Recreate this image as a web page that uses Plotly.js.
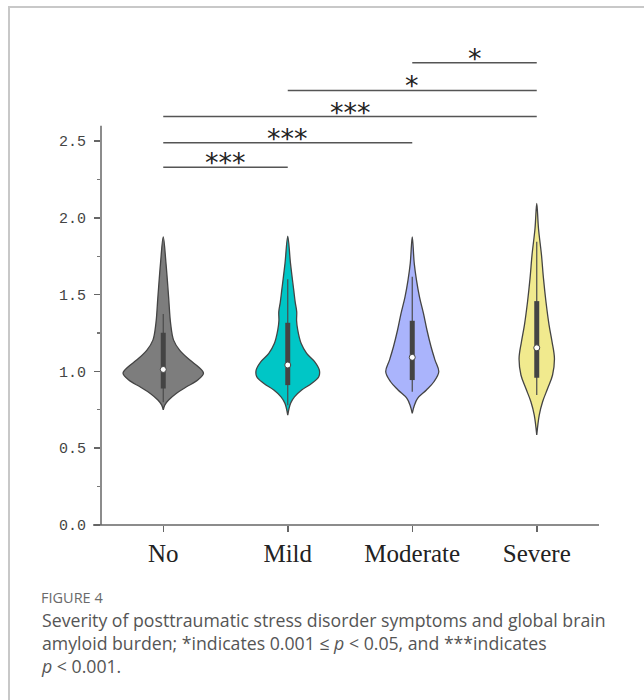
<!DOCTYPE html>
<html>
<head>
<meta charset="utf-8">
<script src="https://cdn.plot.ly/plotly-3.0.1.min.js"></script>
<style>
  html, body { margin: 0; padding: 0; background: #fff; }
  #frame { position: absolute; left: 8px; top: 6px; width: 640px; height: 700px;
           border-left: 2px solid #c8c8c8; border-top: 2px solid #c8c8c8; }
  #chart { position: absolute; left: 0; top: 0; width: 644px; height: 700px; }
</style>
</head>
<body>
<div id="frame"></div>
<div id="chart"></div>
<script>
// ---------------- data ----------------
const categories = ['No', 'Mild', 'Moderate', 'Severe'];

// violin outlines: y levels and half widths (in category units)
const noLevels = [1.877, 1.704, 1.486, 1.313, 1.204, 1.139, 1.074, 1.031, 0.988, 0.944, 0.900, 0.857, 0.814, 0.781, 0.749];
const noHalfWidth = [0, 0.022, 0.043, 0.059, 0.083, 0.131, 0.214, 0.281, 0.323, 0.277, 0.187, 0.104, 0.043, 0.012, 0];

const mildLevels = [1.881, 1.704, 1.530, 1.450, 1.389, 1.330, 1.270, 1.183, 1.118, 1.063, 1.009, 0.966, 0.922, 0.879, 0.835, 0.792, 0.716];
const mildHalfWidth = [0, 0.022, 0.048, 0.060, 0.072, 0.071, 0.080, 0.107, 0.152, 0.217, 0.254, 0.249, 0.191, 0.112, 0.054, 0.022, 0];

const moderateLevels = [1.877, 1.704, 1.595, 1.486, 1.378, 1.270, 1.161, 1.074, 0.998, 0.933, 0.879, 0.825, 0.781, 0.727];
const moderateHalfWidth = [0, 0.016, 0.034, 0.058, 0.090, 0.118, 0.151, 0.183, 0.213, 0.174, 0.114, 0.043, 0.018, 0];

const severeLevels = [2.094, 1.931, 1.758, 1.606, 1.454, 1.302, 1.193, 1.085, 0.977, 0.890, 0.803, 0.716, 0.586];
const severeHalfWidth = [0, 0.014, 0.038, 0.054, 0.074, 0.099, 0.123, 0.142, 0.127, 0.088, 0.047, 0.020, 0];

// box summary statistics
const lowerFence = [0.80, 0.78, 0.868, 0.846];
const q1 = [0.889, 0.911, 0.944, 0.959];
const medians = [1.013, 1.042, 1.092, 1.154];
const q3 = [1.252, 1.317, 1.330, 1.458];
const upperFence = [1.374, 1.60, 1.617, 1.845];

// significance brackets
const sigFrom = [0, 0, 0, 1, 2];
const sigTo = [1, 2, 3, 3, 3];
const sigHeight = [2.33, 2.49, 2.66, 2.83, 3.01];
const sigLabel = ['***', '***', '***', '*', '*'];

// y ticks
const yTickVals = [0, 0.5, 1.0, 1.5, 2.0, 2.5];
const yMinorVals = [0.25, 0.75, 1.25, 1.75, 2.25];
const yAxisTop = 2.6;

// ---------------- styles ----------------
const fillColors = ['#7d7d7d', '#00c6c6', '#aab4fc', '#f1ea8e'];
const outlineColor = '#444444';
const yMax = 3.1;

const profiles = [
  [noLevels, noHalfWidth],
  [mildLevels, mildHalfWidth],
  [moderateLevels, moderateHalfWidth],
  [severeLevels, severeHalfWidth]
];

const traces = [];
profiles.forEach(([lv, hw], i) => {
  const xs = [], ys = [];
  for (let k = 0; k < lv.length; k++) { xs.push(i + hw[k]); ys.push(lv[k]); }
  for (let k = lv.length - 1; k >= 0; k--) { xs.push(i - hw[k]); ys.push(lv[k]); }
  traces.push({
    type: 'scatter', mode: 'lines', x: xs, y: ys,
    fill: 'toself', fillcolor: fillColors[i],
    line: { color: outlineColor, width: 1.3, shape: 'spline', smoothing: 1 },
    hoverinfo: 'skip', showlegend: false
  });
});

// whiskers (thin) and inter-quartile bars (thick)
const wx = [], wy = [], bx = [], by = [];
categories.forEach((c, i) => {
  wx.push(i, i, null); wy.push(lowerFence[i], upperFence[i], null);
  bx.push(i, i, null); by.push(q1[i], q3[i], null);
});
traces.push({
  type: 'scatter', mode: 'lines', x: wx, y: wy,
  line: { color: '#4a4a4a', width: 1.2 }, showlegend: false, hoverinfo: 'skip'
});
traces.push({
  type: 'scatter', mode: 'lines', x: bx, y: by,
  line: { color: '#444444', width: 5 }, showlegend: false, hoverinfo: 'skip'
});

traces.push({
  type: 'scatter', mode: 'markers',
  x: [0, 1, 2, 3], y: medians,
  marker: { color: '#ffffff', size: 6, line: { color: '#444', width: 1 } },
  showlegend: false, hoverinfo: 'skip'
});

// layout helpers
const L = 101, R = 45, T = 49, B = 175, W = 644, H = 700;
const plotW = W - L - R, plotH = H - T - B;
const px2paperX = px => (px - L) / plotW;
const px2paperY = py => (H - B - py) / plotH;

const shapes = [];
shapes.push({ type: 'line', xref: 'paper', yref: 'paper', x0: 0, x1: 0, y0: 0, y1: yAxisTop / yMax,
              line: { color: '#666', width: 1.5 } });
shapes.push({ type: 'line', xref: 'paper', yref: 'paper', x0: px2paperX(93), x1: 1, y0: 0, y1: 0,
              line: { color: '#666', width: 1.5 } });

const annotations = [];
for (let k = 0; k < sigFrom.length; k++) {
  shapes.push({ type: 'line', xref: 'x', yref: 'y', x0: sigFrom[k], x1: sigTo[k],
                y0: sigHeight[k], y1: sigHeight[k], line: { color: '#555', width: 1.5 } });
  annotations.push({
    xref: 'x', yref: 'y', x: (sigFrom[k] + sigTo[k]) / 2, y: sigHeight[k],
    text: sigLabel[k], showarrow: false, yanchor: 'bottom', yshift: -13,
    font: { family: 'DejaVu Sans', size: 27, color: '#222' }
  });
}

annotations.push({
  xref: 'paper', yref: 'paper', x: px2paperX(39), y: px2paperY(597),
  xanchor: 'left', yanchor: 'middle', align: 'left', showarrow: false,
  text: 'FIGURE 4', font: { family: 'Open Sans', size: 14.5, color: '#6a6a6a' }
});
annotations.push({
  xref: 'paper', yref: 'paper', x: px2paperX(39), y: px2paperY(643),
  xanchor: 'left', yanchor: 'middle', align: 'left', showarrow: false,
  text: 'Severity of posttraumatic stress disorder symptoms and global brain<br>' +
        'amyloid burden; *indicates 0.001 \u2264 <i>p</i> &lt; 0.05, and ***indicates<br>' +
        '<i>p</i> &lt; 0.001.',
  font: { family: 'Open Sans', size: 17.7, color: '#555' }
});

const layout = {
  width: W, height: H,
  margin: { l: L, r: R, t: T, b: B, pad: 0 },
  paper_bgcolor: 'rgba(0,0,0,0)', plot_bgcolor: 'rgba(0,0,0,0)',
  showlegend: false,
  xaxis: {
    range: [-0.5, 3.5], showline: false, showgrid: false, zeroline: false,
    tickmode: 'array', tickvals: [0, 1, 2, 3], ticktext: categories,
    ticks: 'outside', ticklen: 6, tickwidth: 1.5, tickcolor: '#666',
    tickfont: { family: 'Liberation Serif', size: 25, color: '#222' }
  },
  yaxis: {
    range: [0, yMax], showline: false, showgrid: false, zeroline: false,
    tickmode: 'array', tickvals: yTickVals, ticktext: yTickVals.map(v => v.toFixed(1)),
    ticks: 'outside', ticklen: 6, tickwidth: 1.5, tickcolor: '#666',
    ticklabelstandoff: 5,
    minor: { tickmode: 'array', tickvals: yMinorVals, ticks: 'outside', ticklen: 3.5, tickwidth: 1.2, tickcolor: '#777', showgrid: false },
    tickfont: { family: 'Liberation Mono', size: 15, color: '#444' }
  },
  shapes: shapes,
  annotations: annotations
};

Plotly.newPlot('chart', traces, layout, { displayModeBar: false, staticPlot: true });
</script>
</body>
</html>
